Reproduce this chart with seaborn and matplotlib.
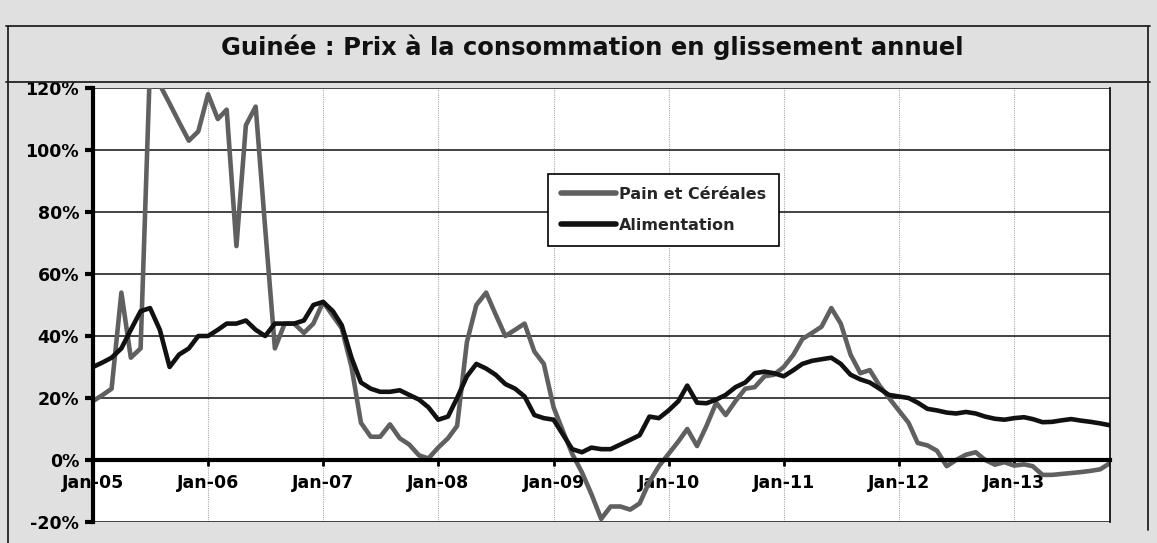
import matplotlib
matplotlib.use("Agg")
import matplotlib.pyplot as plt
import pandas as pd
import seaborn as sns
from matplotlib.lines import Line2D
from matplotlib.ticker import FuncFormatter

START = "2005-01-01"

# glissement annuel (%), mensuel, Jan-05 .. Nov-13
PAIN_CEREALES = [
    19, 21, 23, 54, 33, 36, 128, 121, 115, 109,
    103, 106, 118, 110, 113, 69, 108, 114, 75, 36,
    44, 44, 41, 44, 51, 46.5, 42.5, 30, 12, 7.5,
    7.5, 11.5, 7, 5, 1.5, 0.5, 4, 7, 11, 38,
    50, 54, 47, 40, 42, 44, 35, 31, 17, 9,
    2, -4, -11, -19, -15, -15, -16, -14, -7, -2,
    2, 6, 10, 4.5, 11, 18.5, 14.5, 19, 23, 23.5,
    27, 27.5, 30, 34, 39, 41, 43, 49, 44, 34,
    28, 29, 24, 20, 16, 12, 5.5, 4.7, 3, -2,
    0, 1.7, 2.5, 0, -1.5, -0.7, -1.8, -1.4, -2, -4.8,
    -4.8, -4.5, -4.2, -3.9, -3.5, -3, -1,
]
ALIMENTATION = [
    30, 31.5, 33, 36, 42, 48, 49, 42, 30, 34,
    36, 40, 40, 42, 44, 44, 45, 42, 40, 44,
    44, 44, 45, 50, 51, 48, 43.5, 33, 25, 23,
    22, 22, 22.5, 21, 19.5, 17, 13, 14, 20, 27,
    31, 29.5, 27.5, 24.5, 23, 20.5, 14.5, 13.5, 13, 8,
    3.5, 2.5, 4, 3.5, 3.5, 5, 6.5, 8, 14, 13.5,
    16, 19, 24, 18.5, 18.3, 19.5, 21, 23.5, 25, 28,
    28.5, 28, 27, 29, 31, 32, 32.5, 33, 31, 27.5,
    26, 25, 23, 21, 20.5, 20, 18.5, 16.5, 16, 15.3,
    15, 15.5, 15, 14, 13.3, 13, 13.5, 13.8, 13.2, 12.2,
    12.3, 12.8, 13.2, 12.7, 12.3, 11.8, 11.2,
]
SERIES = ["Pain et Céréales", "Alimentation"]
COLORS = {"Pain et Céréales": "#606060", "Alimentation": "#111111"}
YEAR_LABELS = ["Jan-05", "Jan-06", "Jan-07", "Jan-08", "Jan-09",
               "Jan-10", "Jan-11", "Jan-12", "Jan-13"]
Y_TICKS = [-20, 0, 20, 40, 60, 80, 100, 120]
TITLE = "Guinée : Prix à la consommation en glissement annuel"

W, H = 1157, 543

sns.set_theme(style="white")
plt.rcParams["font.family"] = ["DejaVu Sans"]
plt.rcParams["font.weight"] = "bold"

dates = pd.date_range(START, periods=len(PAIN_CEREALES), freq="MS")
df = pd.DataFrame({"date": dates, SERIES[0]: PAIN_CEREALES, SERIES[1]: ALIMENTATION})
long = df.melt(id_vars="date", var_name="serie", value_name="pct")

fig = plt.figure(figsize=(W / 100, H / 100), dpi=100, facecolor="#e0e0e0")
ax = fig.add_axes([93 / W, 1 - 522 / H, (1110 - 93) / W, (522 - 88) / H])
ax.set_facecolor("white")

for name in SERIES:
    sns.lineplot(data=long[long["serie"] == name], x="date", y="pct",
                 color=COLORS[name], linewidth=3.3, ax=ax, legend=False)

ax.set_ylim(-20, 120)
ax.set_xlim(dates[0], dates[-1])
ax.set_yticks(Y_TICKS)
ax.yaxis.set_major_formatter(FuncFormatter(lambda v, _: f"{v:.0f}%"))
ax.set_xticks(pd.date_range(START, periods=len(YEAR_LABELS), freq="12MS"))
ax.set_xticklabels(YEAR_LABELS)
ax.set_xlabel("")
ax.set_ylabel("")

ax.spines["bottom"].set_position(("data", 0))
ax.spines["bottom"].set_linewidth(3)
ax.spines["left"].set_linewidth(3)
ax.spines["right"].set_linewidth(1.2)
ax.spines["top"].set_visible(False)
for sp in ax.spines.values():
    sp.set_color("black")

ax.grid(axis="y", color="#222222", lw=1.2)
ax.grid(axis="x", color="#aaaaaa", lw=0.8, ls=(0, (1, 1)))
ax.tick_params(axis="y", direction="out", left=True, length=6, width=3,
               labelsize=12.5, pad=4, colors="black")
ax.tick_params(axis="x", direction="out", bottom=True, length=4, width=2,
               labelsize=12.5, pad=6, colors="black")
for lab in ax.get_xticklabels() + ax.get_yticklabels():
    lab.set_fontweight("bold")

handles = [Line2D([], [], color=COLORS[n], lw=4) for n in SERIES]
leg = ax.legend(handles, SERIES, loc="upper left", bbox_to_anchor=(0.44, 0.82),
                frameon=True, fancybox=False, edgecolor="black", framealpha=1,
                prop={"weight": "bold", "size": 11.5}, handlelength=3.4,
                handletextpad=0.2, labelspacing=1.0, borderpad=0.8)
leg.get_frame().set_linewidth(1.2)

fig.text(592 / W, 1 - 47 / H, TITLE, ha="center", va="center",
         fontsize=17.5, fontweight="bold", color="#111111")

# chart frame
for xs, ys in [([6, 1150], [26, 26]), ([6, 1150], [82, 82]),
               ([8, 8], [26, 543]), ([1148, 1148], [26, 530])]:
    fig.add_artist(Line2D([x / W for x in xs], [1 - y / H for y in ys],
                          transform=fig.transFigure, color="#222222", lw=1.3))

fig.savefig("out.png", dpi=100, facecolor=fig.get_facecolor())
